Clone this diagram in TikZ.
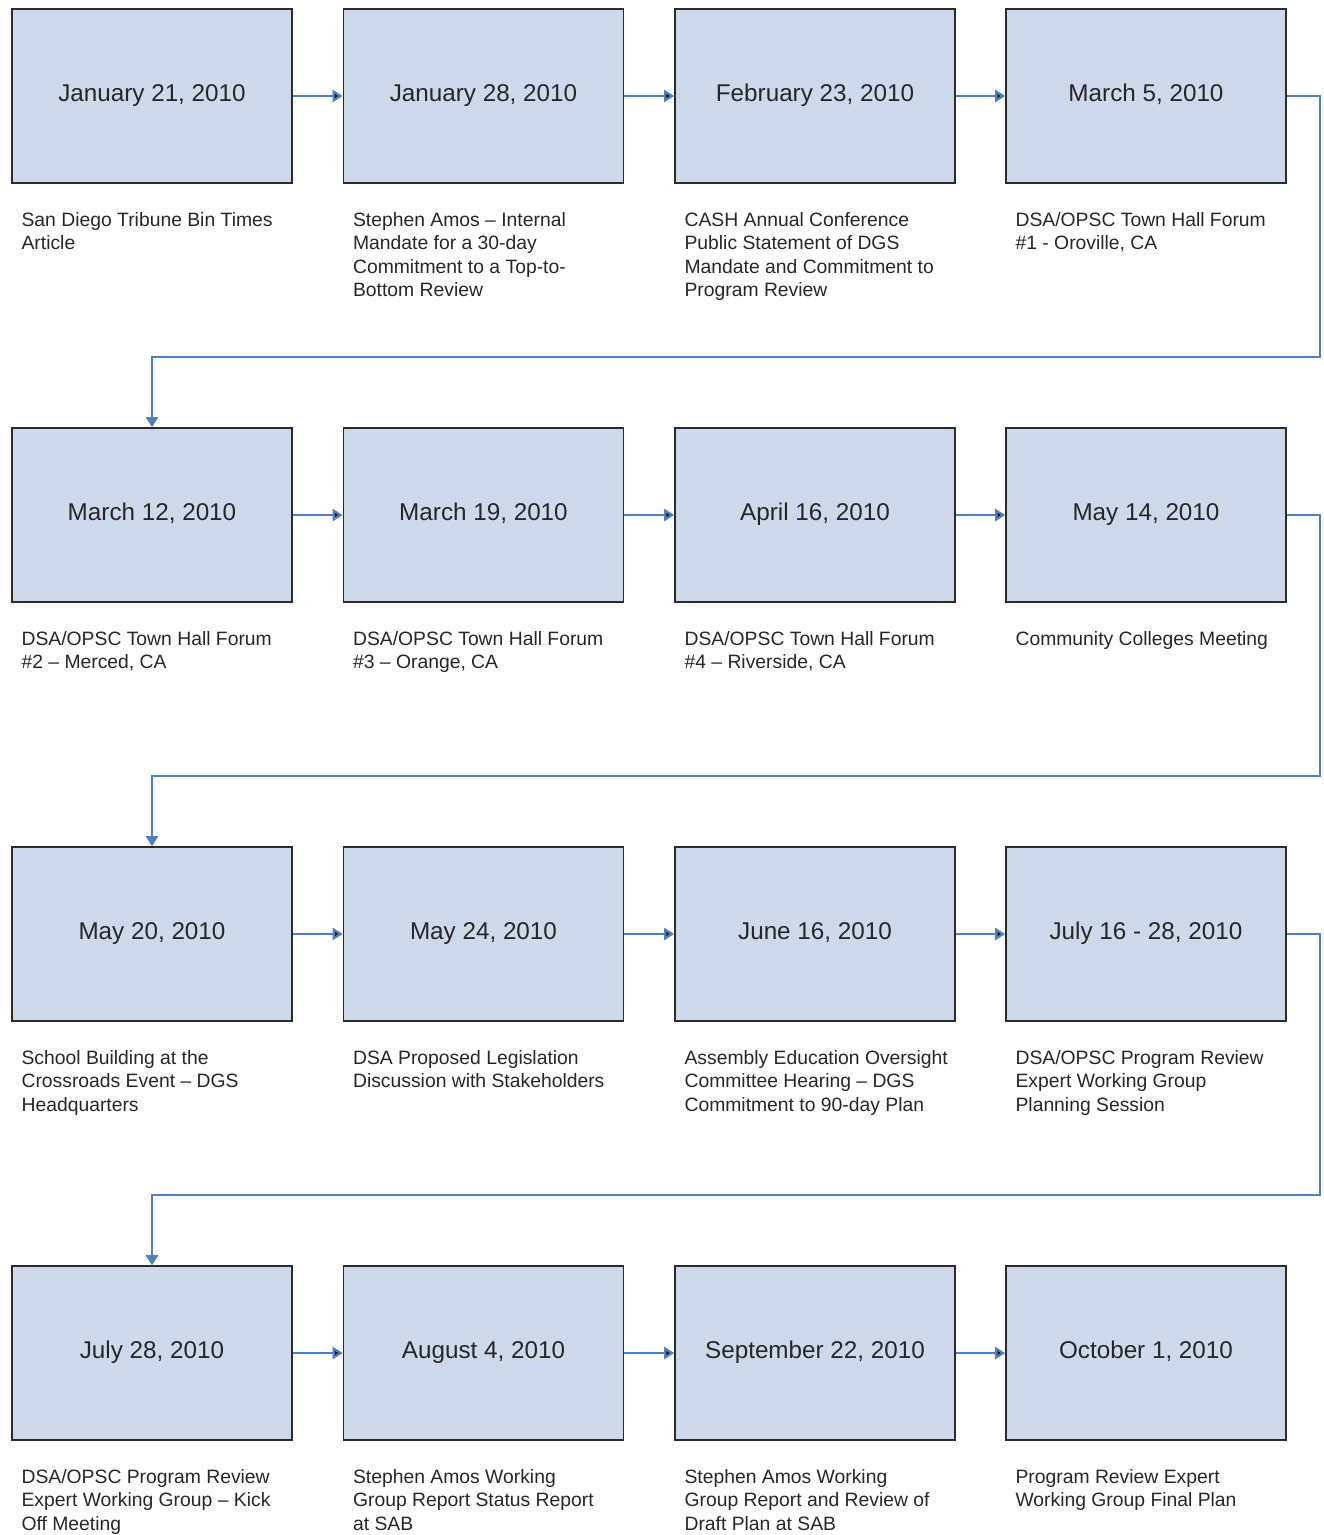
\documentclass[tikz,border=0pt]{standalone}
\usepackage{fontspec}
\setmainfont{Liberation Sans}
\usepackage{xcolor}
\usepackage{tikz}
\usetikzlibrary{arrows.meta}

\definecolor{boxfill}{HTML}{CDD9EB}
\definecolor{boxline}{HTML}{2B2B2B}
\definecolor{linkblue}{HTML}{4F7FBF}
\definecolor{txt}{HTML}{262626}

\begin{document}
\begin{tikzpicture}[
    datebox/.style={shape=rectangle,draw=boxline,fill=boxfill,line width=0.9pt,
        minimum width=5.6cm,minimum height=3.48cm,text=txt,
        text height=0.72em,text depth=0.15em,
        font=\fontsize{13.8}{16}\selectfont},
    event/.style={anchor=north west,inner sep=0pt,align=left,text=txt,
        font=\fontsize{11}{13.4}\selectfont},
    link/.style={draw=linkblue,line width=1.3pt,
        -{Triangle[length=0.2cm,width=0.24cm]}}
]
    \useasboundingbox (0,0) rectangle (26.48,-30.70);
    % dates
    \node[datebox] (D1) at (3.04,-1.92){January 21, 2010};
    \node[datebox] (D2) at (9.67,-1.92){January 28, 2010};
    \node[datebox] (D3) at (16.30,-1.92){February 23, 2010};
    \node[datebox] (D4) at (22.92,-1.92){March 5, 2010};
    \node[datebox] (D5) at (3.04,-10.30){March 12, 2010};
    \node[datebox] (D6) at (9.67,-10.30){March 19, 2010};
    \node[datebox] (D7) at (16.30,-10.30){April 16, 2010};
    \node[datebox] (D8) at (22.92,-10.30){May 14, 2010};
    \node[datebox] (D9) at (3.04,-18.68){May 20, 2010};
    \node[datebox] (D10) at (9.67,-18.68){May 24, 2010};
    \node[datebox] (D11) at (16.30,-18.68){June 16, 2010};
    \node[datebox] (D12) at (22.92,-18.68){July 16 - 28, 2010};
    \node[datebox] (D13) at (3.04,-27.06){July 28, 2010};
    \node[datebox] (D14) at (9.67,-27.06){August 4, 2010};
    \node[datebox] (D15) at (16.30,-27.06){September 22, 2010};
    \node[datebox] (D16) at (22.92,-27.06){October 1, 2010};
    % events
    \node[event] (E1) at ([shift={(0.2,-0.56)}]D1.south west){San Diego Tribune Bin Times\\Article};
    \node[event] (E2) at ([shift={(0.2,-0.56)}]D2.south west){Stephen Amos -- Internal\\Mandate for a 30-day\\Commitment to a Top-to-\\Bottom Review};
    \node[event] (E3) at ([shift={(0.2,-0.56)}]D3.south west){CASH Annual Conference\\Public Statement of DGS\\Mandate and Commitment to\\Program Review};
    \node[event] (E4) at ([shift={(0.2,-0.56)}]D4.south west){DSA/OPSC Town Hall Forum\\\#1 - Oroville, CA};
    \node[event] (E5) at ([shift={(0.2,-0.56)}]D5.south west){DSA/OPSC Town Hall Forum\\\#2 -- Merced, CA};
    \node[event] (E6) at ([shift={(0.2,-0.56)}]D6.south west){DSA/OPSC Town Hall Forum\\\#3 -- Orange, CA};
    \node[event] (E7) at ([shift={(0.2,-0.56)}]D7.south west){DSA/OPSC Town Hall Forum\\\#4 -- Riverside, CA};
    \node[event] (E8) at ([shift={(0.2,-0.56)}]D8.south west){Community Colleges Meeting};
    \node[event] (E9) at ([shift={(0.2,-0.56)}]D9.south west){School Building at the\\Crossroads Event -- DGS\\Headquarters};
    \node[event] (E10) at ([shift={(0.2,-0.56)}]D10.south west){DSA Proposed Legislation\\Discussion with Stakeholders};
    \node[event] (E11) at ([shift={(0.2,-0.56)}]D11.south west){Assembly Education Oversight\\Committee Hearing -- DGS\\Commitment to 90-day Plan};
    \node[event] (E12) at ([shift={(0.2,-0.56)}]D12.south west){DSA/OPSC Program Review\\Expert Working Group\\Planning Session};
    \node[event] (E13) at ([shift={(0.2,-0.56)}]D13.south west){DSA/OPSC Program Review\\Expert Working Group -- Kick\\Off Meeting};
    \node[event] (E14) at ([shift={(0.2,-0.56)}]D14.south west){Stephen Amos Working\\Group Report Status Report\\at SAB};
    \node[event] (E15) at ([shift={(0.2,-0.56)}]D15.south west){Stephen Amos Working\\Group Report and Review of\\Draft Plan at SAB};
    \node[event] (E16) at ([shift={(0.2,-0.56)}]D16.south west){Program Review Expert\\Working Group Final Plan};
    % turns at the end of a row
    \coordinate (W1) at (26.40,-7.14);
    \coordinate (W2) at (26.40,-15.52);
    \coordinate (W3) at (26.40,-23.90);
    % links
    \path [link](D1) edge (D2);
    \path [link](D2) edge (D3);
    \path [link](D3) edge (D4);
    \draw [link](D4.east) -| (W1) -| (D5.north);
    \path [link](D5) edge (D6);
    \path [link](D6) edge (D7);
    \path [link](D7) edge (D8);
    \draw [link](D8.east) -| (W2) -| (D9.north);
    \path [link](D9) edge (D10);
    \path [link](D10) edge (D11);
    \path [link](D11) edge (D12);
    \draw [link](D12.east) -| (W3) -| (D13.north);
    \path [link](D13) edge (D14);
    \path [link](D14) edge (D15);
    \path [link](D15) edge (D16);
\end{tikzpicture}
\end{document}
